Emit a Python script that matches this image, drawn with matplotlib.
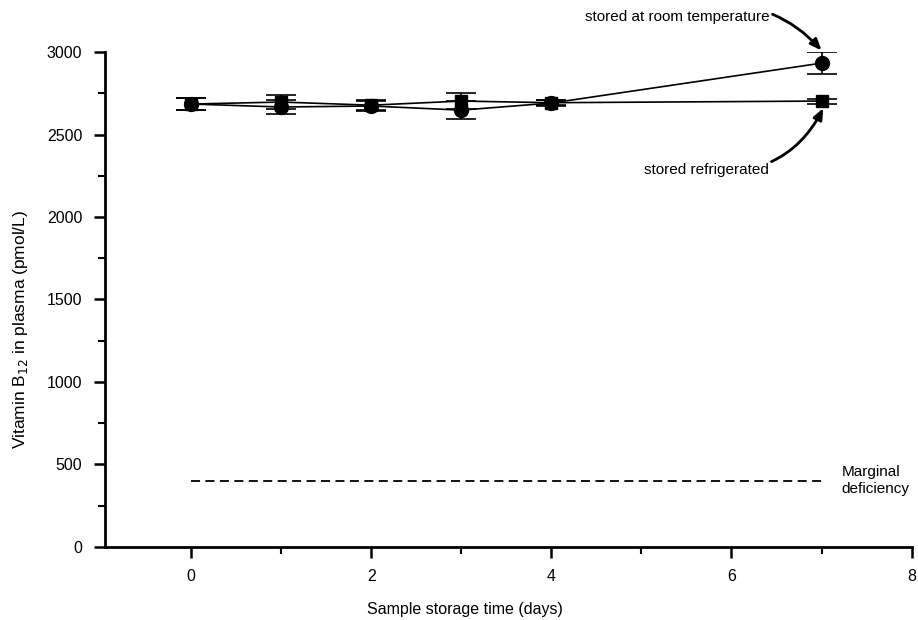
import matplotlib.pyplot as plt
from matplotlib.ticker import MultipleLocator

plt.rcParams['font.family'] = ['Liberation Sans', 'DejaVu Sans']

# Dados
dias = [0, 1, 2, 3, 4, 7]
ambiente = [2685, 2667, 2673, 2648, 2691, 2933]
ambiente_err = [35, 45, 30, 55, 20, 65]
geladeira = [2685, 2697, 2678, 2703, 2693, 2703]
geladeira_err = [35, 40, 30, 50, 15, 15]
limite_marginal = 400
limite_dias = [0, 7]

fig = plt.figure(figsize=(9.18, 6.2), dpi=100)
ax = fig.add_axes([0.114, 0.118, 0.879, 0.798])

ax.errorbar(dias, ambiente, yerr=ambiente_err, color='black', marker='o', ms=10,
            lw=1.2, capsize=11, capthick=1.2, elinewidth=1.2, zorder=3)
ax.errorbar(dias, geladeira, yerr=geladeira_err, color='black', marker='s', ms=8,
            lw=1.2, capsize=11, capthick=1.2, elinewidth=1.2, zorder=4)

ax.plot(limite_dias, [limite_marginal] * 2, color='black', ls=(0, (5, 3)), lw=1.3)
ax.text(7.22, limite_marginal, 'Marginal\ndeficiency', fontsize=11, va='center', ha='left',
        linespacing=1.25)

ax.annotate('stored at room temperature', xy=(7.0, 3010), xytext=(5.4, 3210),
            fontsize=11, ha='center', va='center', annotation_clip=False,
            arrowprops=dict(arrowstyle='-|>,head_width=0.25,head_length=0.6', color='black',
                            lw=2, connectionstyle='arc3,rad=-0.35', shrinkA=55, shrinkB=0))
ax.annotate('stored refrigerated', xy=(7.02, 2660), xytext=(5.72, 2285),
            fontsize=11, ha='center', va='center', annotation_clip=False,
            arrowprops=dict(arrowstyle='-|>,head_width=0.25,head_length=0.6', color='black',
                            lw=2, connectionstyle='arc3,rad=0.35', shrinkA=64, shrinkB=0))

ax.set_xlim(-0.96, 8)
ax.set_ylim(0, 3000)
ax.xaxis.set_major_locator(MultipleLocator(2))
ax.xaxis.set_minor_locator(MultipleLocator(1))
ax.yaxis.set_major_locator(MultipleLocator(500))
ax.yaxis.set_minor_locator(MultipleLocator(250))

for lado in ['top', 'right']:
    ax.spines[lado].set_visible(False)
for lado in ['left', 'bottom']:
    ax.spines[lado].set_linewidth(2)

ax.tick_params(which='major', direction='out', length=8, width=1.8, labelsize=11.5, pad=8)
ax.tick_params(which='minor', direction='out', length=5, width=1.5)

ax.set_xlabel('Sample storage time (days)', fontsize=11.5)
ax.set_ylabel('Vitamin B$_{12}$ in plasma (pmol/L)', fontsize=12.5)
ax.xaxis.set_label_coords(0.446, -0.112)
ax.yaxis.set_label_coords(-0.092, 0.44)

fig.savefig('out.png', dpi=100)
